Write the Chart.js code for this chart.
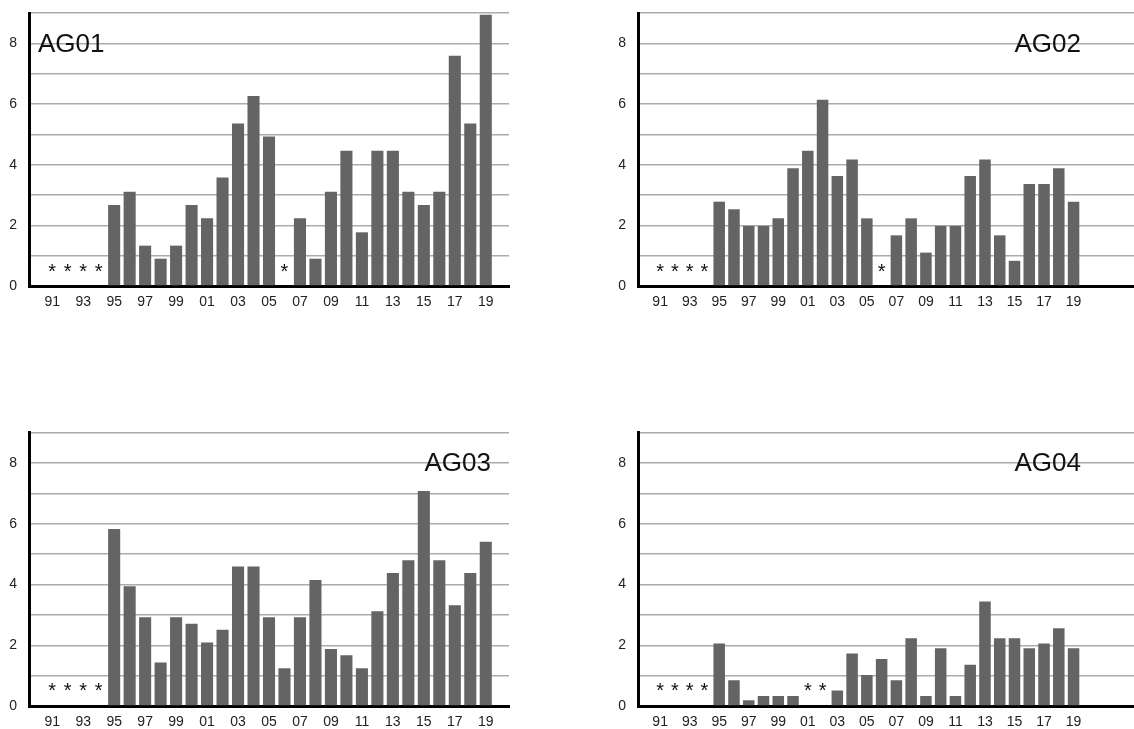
<!DOCTYPE html>
<html>
<head>
<meta charset="utf-8">
<script src="https://cdn.jsdelivr.net/npm/chart.js@4.4.1/dist/chart.umd.min.js"></script>
<style>
  html, body { margin: 0; padding: 0; background: #fff; overflow: hidden; width: 1134px; height: 729px; }
  canvas { position: absolute; }
</style>
</head>
<body>
<canvas id="chart-ag01" width="520" height="320" style="left:0;top:0"></canvas>
<canvas id="chart-ag02" width="540" height="320" style="left:609px;top:0"></canvas>
<canvas id="chart-ag03" width="520" height="320" style="left:0;top:420px"></canvas>
<canvas id="chart-ag04" width="540" height="320" style="left:609px;top:420px"></canvas>
<script>
// ========== data ==========
const years = ["91", "92", "93", "94", "95", "96", "97", "98", "99", "00",
  "01", "02", "03", "04", "05", "06", "07", "08", "09", "10",
  "11", "12", "13", "14", "15", "16", "17", "18", "19"];
// null = no data (shown as *)
const ag01 = [null, null, null, null, 2.67, 3.11, 1.33, 0.90, 1.33, 2.67,
  2.23, 3.58, 5.36, 6.26, 4.93, null, 2.23, 0.90, 3.11, 4.46,
  1.77, 4.46, 4.46, 3.11, 2.67, 3.11, 7.59, 5.36, 8.94];
const ag02 = [null, null, null, null, 2.78, 2.53, 1.98, 1.98, 2.23, 3.88,
  4.46, 6.14, 3.63, 4.17, 2.23, null, 1.67, 2.23, 1.10, 1.98,
  1.98, 3.63, 4.17, 1.67, 0.83, 3.36, 3.36, 3.88, 2.78];
const ag03 = [null, null, null, null, 5.83, 3.94, 2.92, 1.43, 2.92, 2.71,
  2.09, 2.51, 4.59, 4.59, 2.92, 1.24, 2.92, 4.15, 1.88, 1.67,
  1.24, 3.12, 4.38, 4.80, 7.08, 4.80, 3.32, 4.38, 5.41];
const ag04 = [null, null, null, null, 2.06, 0.85, 0.19, 0.33, 0.33, 0.33,
  null, null, 0.51, 1.73, 1.02, 1.55, 0.85, 2.23, 0.33, 1.90,
  0.33, 1.36, 3.44, 2.23, 2.23, 1.90, 2.06, 2.56, 1.90];
const yTicks = [0, 2, 4, 6, 8];
const yMax = 9;

const FONT = "Arial, 'Liberation Sans', sans-serif";
const BAR = "#646464";

// draws the * markers for missing years and the panel name
const panelMarks = {
  id: "panelMarks",
  afterDatasetsDraw: (chart, args, opts) => {
    const { ctx, chartArea } = chart;
    const x = chart.scales.x;
    const y = chart.scales.y;
    ctx.save();
    ctx.fillStyle = "#111";
    ctx.font = "20px " + FONT;
    ctx.textAlign = "center";
    ctx.textBaseline = "alphabetic";
    chart.data.datasets[0].data.forEach((v, i) => {
      if (v === null && chart.data.labels[i] !== "") {
        ctx.fillText("*", x.getPixelForValue(i), y.getPixelForValue(0.28));
      }
    });
    ctx.font = "26px " + FONT;
    ctx.textAlign = opts.align;
    ctx.textBaseline = "middle";
    ctx.fillText(opts.text, chartArea.left + opts.dx, chartArea.top + opts.dy);
    ctx.restore();
  },
};

function makePanel(id, name, values, padRight, canvasPadRight, topPad, title) {
  const canvas = document.getElementById(id);
  if (!canvas) {
    return;
  }
  // one empty slot before the first year, padRight empty slots after the last
  const labels = [""].concat(years, Array(padRight).fill(""));
  const data = [null].concat(values, Array(padRight).fill(null));

  return new Chart(canvas.getContext("2d"), {
    type: "bar",
    data: {
      labels: labels,
      datasets: [
        {
          label: name,
          data: data,
          backgroundColor: BAR,
          borderWidth: 0,
          barPercentage: 0.78,
          categoryPercentage: 1,
        },
      ],
    },
    options: {
      responsive: false,
      animation: false,
      layout: { padding: { left: 0, top: topPad, right: canvasPadRight, bottom: 0 } },
      plugins: {
        legend: { display: false },
        tooltip: { enabled: false },
        panelMarks: title,
      },
      scales: {
        x: {
          offset: true,
          grid: { display: false, drawTicks: false },
          border: { display: true, color: "#000", width: 3 },
          ticks: {
            autoSkip: false,
            maxRotation: 0,
            padding: 8,
            color: "#222",
            font: { family: FONT, size: 14 },
            callback: function (value, index) {
              const label = this.getLabelForValue(value);
              if (label === "") return "";
              return (index - 1) % 2 === 0 ? label : "";
            },
          },
          afterFit: (scale) => {
            scale.height = 34;
            scale.paddingLeft = 0;
            scale.paddingRight = 0;
          },
        },
        y: {
          min: 0,
          max: yMax,
          grid: { color: "#ababab", lineWidth: 1.5, drawTicks: false },
          border: { display: true, color: "#000", width: 3 },
          ticks: {
            stepSize: 1,
            padding: 12,
            color: "#222",
            font: { family: FONT, size: 14 },
            callback: (v) => (yTicks.includes(v) ? v : ""),
          },
          afterFit: (scale) => {
            scale.width = 29;
            scale.paddingTop = 0;
            scale.paddingBottom = 0;
          },
        },
      },
    },
    plugins: [panelMarks],
  });
}

makePanel("chart-ag01", "AG01", ag01, 1, 11, 13, { text: "AG01", align: "left", dx: 9, dy: 32 });
makePanel("chart-ag02", "AG02", ag02, 4, 9, 13, { text: "AG02", align: "right", dx: 443, dy: 32 });
makePanel("chart-ag03", "AG03", ag03, 1, 11, 12.7, { text: "AG03", align: "right", dx: 462, dy: 31.5 });
makePanel("chart-ag04", "AG04", ag04, 4, 9, 12.7, { text: "AG04", align: "right", dx: 443, dy: 31.5 });
</script>
</body>
</html>
